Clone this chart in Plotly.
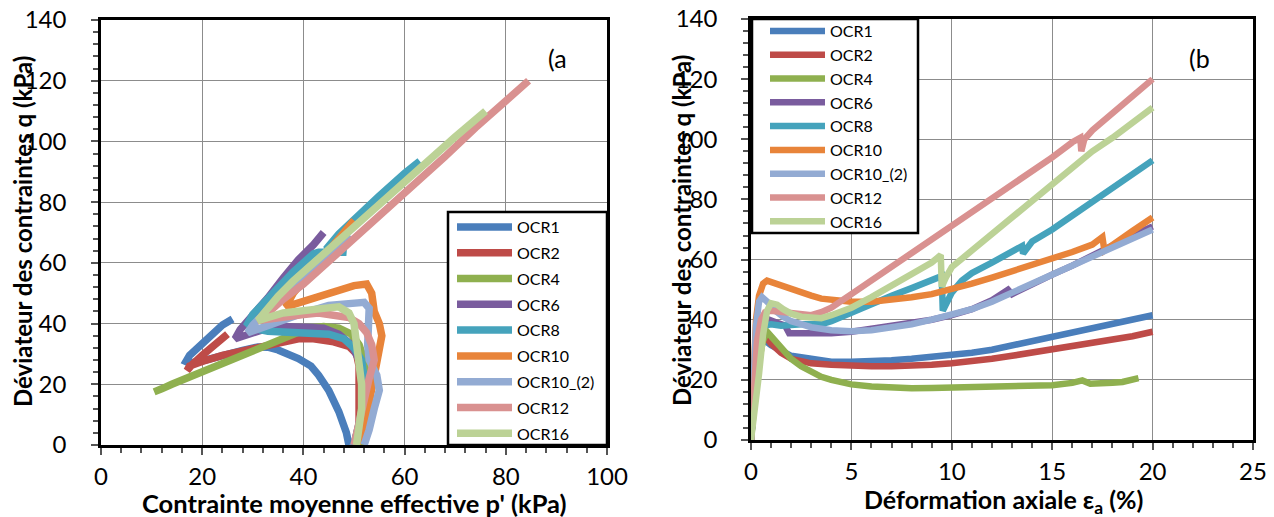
import plotly.graph_objects as go

# ---------------- DATA ----------------
series_names = ["OCR1", "OCR2", "OCR4", "OCR6", "OCR8", "OCR10", "OCR10_(2)", "OCR12", "OCR16"]
series_colors = ["#4A7EBB", "#BE4B48", "#8FB04F", "#7A5C9E", "#45A3BC", "#E8843A", "#93ABD3", "#D99190", "#BCD296"]

# (a) stress paths: p' (kPa) vs q (kPa)
p_ocr1 = [49, 48.5, 47, 45, 43, 41.5, 39, 36.5, 35, 33, 31, 28, 25, 22, 19.5, 17.5, 16.8, 17.5, 19, 20.5, 22, 24, 26]
q_ocr1 = [0, 4, 11, 18, 23, 26, 28.5, 30.5, 31.3, 32.2, 32.3, 31.2, 29.8, 28.5, 27.5, 27, 27.5, 29.5, 32, 34.5, 37, 39.5, 41.5]
p_ocr2 = [51, 51, 51, 51, 50.5, 49, 46, 42, 39, 36, 32, 28, 24, 20, 17.5, 17, 18, 20, 22, 24, 25]
q_ocr2 = [0, 10, 20, 26, 30, 32.5, 34, 35, 35, 34, 32.5, 31, 29.5, 27.5, 26, 24.5, 26.5, 29.5, 32.5, 35, 36.5]
p_ocr4 = [51.5, 52, 52.5, 52.5, 52, 51, 49.5, 47, 44, 41, 38, 35, 32, 29, 26, 23, 20, 17, 14, 12, 10.5]
q_ocr4 = [0, 8, 15, 22, 28, 33, 36.5, 38.5, 39, 38.5, 36.5, 34, 32, 30, 28, 26, 24, 22, 20, 18.5, 17.5]
p_ocr6 = [50, 51, 52, 52, 51, 49.5, 47, 44, 40, 36, 32, 29, 27, 26.5, 27.5, 30, 33, 36, 39, 42, 44]
q_ocr6 = [0, 6, 14, 22, 28, 33, 36.5, 38.5, 39, 39, 38, 36.5, 35.5, 35, 38, 42.5, 48.5, 55, 61, 66, 70]
p_ocr8 = [50, 51, 52, 52, 51.5, 50, 48, 45, 41, 37, 33, 30, 29, 30, 32, 35, 38, 42, 43, 48.5, 44.5, 47, 50, 55, 60, 63]
q_ocr8 = [0, 6, 14, 22, 28, 32, 35, 36.5, 37, 37, 37.5, 38.5, 40, 43, 46.5, 52, 57, 63, 63.5, 63.5, 64.5, 69.5, 74.5, 82, 89.5, 93.5]
p_ocr10 = [50.5, 52, 53, 54, 54.5, 55.5, 55, 54, 53.5, 52.5, 50, 47, 44, 40, 37.5, 36.5, 38, 41, 44, 47, 50]
q_ocr10 = [0, 5, 14, 22, 28, 36, 40, 44, 50, 53, 52.5, 51, 49.5, 47.5, 46, 45.5, 50, 56, 62, 68, 74]
p_ocr10b = [52, 53, 54, 55, 54.5, 53, 52.7, 52.8, 53, 52, 48, 45, 40, 35, 31, 29, 30, 32, 35, 38, 41, 44, 47, 49]
q_ocr10b = [0, 5, 12, 18, 23, 28, 33, 40, 45, 47, 46.5, 46, 43.5, 40.5, 38, 37, 39.5, 43, 48, 52.5, 57, 61.5, 66, 69.5]
p_ocr12 = [50, 51, 52, 53, 54, 53.5, 52.5, 51, 49, 46, 43, 40, 37, 34, 32, 31, 33, 36, 40, 44, 50, 56, 62, 68, 74, 80, 84.5]
q_ocr12 = [0, 8, 15, 22, 28, 33, 37, 40, 42, 43, 43.5, 43, 42.5, 42, 41.5, 41, 43.5, 48, 53, 59, 67.5, 76.5, 86, 95, 104.5, 113.5, 120]
p_ocr16 = [50.5, 51, 51.5, 51.5, 51, 50.5, 50, 49, 47, 44, 40, 36, 33, 31, 32.5, 35, 38, 42, 46, 50, 55, 60, 65, 70, 76]
q_ocr16 = [0, 5, 12, 20, 28, 34, 40, 43.5, 45.5, 45, 44, 43.5, 42, 41, 44, 49, 54, 60, 66, 72, 79, 86.5, 94, 101.5, 110]

# (b) q (kPa) vs axial strain (%)
e_ocr1 = [0, 0.15, 0.3, 0.5, 0.7, 1, 1.5, 2, 3, 4, 5, 6, 7, 8, 9, 10, 11, 12, 13, 14, 15, 16, 17, 18, 19, 20]
qe_ocr1 = [0, 15, 27, 33, 33, 31.5, 29.5, 28, 27, 26, 26, 26, 26.5, 27, 27.5, 28, 29, 30, 31.5, 33, 34.5, 35.5, 37, 38.5, 40, 41.5]
e_ocr2 = [0, 0.15, 0.3, 0.5, 0.7, 1, 1.5, 2, 2.5, 3, 4, 5, 6, 7, 8, 9, 10, 11, 12, 13, 14, 15, 16, 17, 18, 19, 20]
qe_ocr2 = [0, 14, 27, 33, 34.5, 32, 29, 27, 26, 25.5, 25, 24.5, 24.5, 24.5, 24.5, 25, 25.5, 26, 27, 28, 29, 30, 31, 32, 33, 34.5, 36]
e_ocr4 = [0, 0.15, 0.35, 0.6, 0.8, 1, 1.3, 1.6, 2, 2.5, 3, 3.5, 4, 4.5, 5, 6, 7, 8, 9, 10, 11, 12, 13, 14, 15, 16, 16.5, 16.9, 17.5, 18, 18.5, 19, 19.3]
qe_ocr4 = [0, 12, 25, 33, 36, 34.5, 32, 29.5, 27, 24.5, 22.5, 21, 20, 19, 18.5, 17.8, 17.3, 17.2, 17.3, 17.5, 17.6, 17.5, 17.6, 17.8, 18.2, 19, 19.8, 18.7, 18.6, 19, 19.3, 19.8, 20.6]
e_ocr6 = [0, 0.2, 0.4, 0.6, 0.9, 1.3, 1.7, 1.9, 2.5, 3, 4, 5, 6, 7, 8, 9, 10, 11, 12, 12.8, 13, 14, 15, 16, 17, 18, 19, 20]
qe_ocr6 = [0, 18, 33, 38.5, 40, 39, 38, 35.5, 35.5, 35.3, 35.5, 36, 37, 37.8, 38.5, 40, 41.5, 43.5, 46.5, 50, 48.5, 52, 55, 58, 61.5, 64.5, 68, 71]
e_ocr8 = [0, 0.2, 0.4, 0.6, 1, 1.5, 2, 2.5, 3, 3.5, 4, 5, 6, 7, 8, 9, 9.5, 9.55, 9.8, 10, 10.5, 11, 12, 13, 13.5, 13.55, 14, 15, 16, 17, 18, 19, 20]
qe_ocr8 = [0, 20, 34, 38, 38.5, 38, 38.5, 38.5, 38.5, 38.5, 39.5, 42.5, 45.5, 48, 50.5, 53, 54.5, 43, 46, 49, 53, 55.5, 59, 63, 64.5, 62, 66, 70, 74.5, 79, 83.5, 88, 93]
e_ocr10 = [0, 0.1, 0.25, 0.4, 0.6, 0.8, 1.2, 1.6, 2, 2.5, 3, 3.5, 4, 5, 6, 7, 8, 9, 10, 11, 12, 13, 14, 15, 16, 17, 17.5, 17.6, 18, 19, 20]
qe_ocr10 = [0, 20, 40, 48, 52, 53, 52, 51, 50, 49, 48, 47, 46.5, 46, 46, 46.5, 47.5, 48.5, 50, 52, 54, 56, 58, 60, 62.5, 65, 67.5, 63, 65, 69.5, 74]
e_ocr10b = [0, 0.1, 0.25, 0.4, 0.55, 0.8, 1.2, 1.6, 2, 2.5, 3, 4, 5, 6, 7, 8, 9, 10, 11, 12, 13, 14, 15, 16, 17, 18, 19, 20]
qe_ocr10b = [0, 18, 38, 46, 47.5, 46, 43, 41, 39.5, 38.5, 37.5, 36.5, 36.2, 36.5, 37.3, 38.5, 40, 41.5, 43.5, 46, 49, 52, 55, 58, 61.5, 64.5, 67, 70]
e_ocr12 = [0, 0.15, 0.3, 0.5, 0.7, 1, 1.5, 2, 2.5, 3, 3.5, 4, 5, 6, 7, 8, 9, 10, 11, 12, 13, 14, 15, 16, 16.4, 16.45, 16.6, 17, 18, 19, 20]
qe_ocr12 = [0, 20, 33, 40, 42.5, 43, 42.5, 42, 41.5, 41.5, 42.5, 44, 48.5, 53, 57.5, 62.5, 67, 71.5, 76, 80, 84.5, 89.5, 94, 99, 100.5, 96, 100, 103, 108.5, 114, 120]
e_ocr16 = [0, 0.2, 0.4, 0.6, 0.8, 1, 1.3, 1.6, 2, 2.5, 3, 3.5, 4, 5, 6, 7, 8, 9, 9.45, 9.5, 9.7, 10, 11, 12, 13, 14, 15, 16, 17, 18, 19, 20]
qe_ocr16 = [0, 10, 22, 35, 43, 45.5, 45, 43.5, 42, 41, 40.5, 40.5, 41.5, 44, 47.5, 51.5, 55.5, 59, 61.5, 51, 54, 57.5, 63, 68.5, 74, 79.5, 85, 90.5, 96, 100.5, 105.5, 110.5]

# axis tick values / labels
x_a_ticks = [0, 20, 40, 60, 80, 100]
x_b_ticks = [0, 5, 10, 15, 20, 25]
y_ticks = [0, 20, 40, 60, 80, 100, 120, 140]

paths_a = [(p_ocr1, q_ocr1), (p_ocr2, q_ocr2), (p_ocr4, q_ocr4), (p_ocr6, q_ocr6), (p_ocr8, q_ocr8),
           (p_ocr10, q_ocr10), (p_ocr10b, q_ocr10b), (p_ocr12, q_ocr12), (p_ocr16, q_ocr16)]
curves_b = [(e_ocr1, qe_ocr1), (e_ocr2, qe_ocr2), (e_ocr4, qe_ocr4), (e_ocr6, qe_ocr6), (e_ocr8, qe_ocr8),
            (e_ocr10, qe_ocr10), (e_ocr10b, qe_ocr10b), (e_ocr12, qe_ocr12), (e_ocr16, qe_ocr16)]

FONT = "Lato, 'Open Sans', sans-serif"
W, H = 1274, 517

fig = go.Figure()
for i, (name, col) in enumerate(zip(series_names, series_colors)):
    px, qy = paths_a[i]
    fig.add_trace(go.Scatter(x=px, y=qy, mode="lines", name=name, xaxis="x", yaxis="y",
                             line=dict(color=col, width=7.5), legend="legend",
                             legendgroup="a" + name))
for i, (name, col) in enumerate(zip(series_names, series_colors)):
    ex, qy = curves_b[i]
    fig.add_trace(go.Scatter(x=ex, y=qy, mode="lines", name=name, xaxis="x2", yaxis="y2",
                             line=dict(color=col, width=6.5), legend="legend2",
                             legendgroup="b" + name))

def px2x(p):
    return p / W

def px2y(p):
    return 1 - p / H

axis_common = dict(showgrid=True, gridcolor="#8C8C8C", gridwidth=1.2, zeroline=False,
                   showline=True, linecolor="black", linewidth=2.5, mirror=True,
                   ticks="outside", ticklen=7, tickwidth=1.5, tickcolor="#555555",
                   tickfont=dict(family=FONT, size=24, color="black"),
                   automargin=False)

def minor(d):
    return dict(dtick=d, ticks="outside", ticklen=5, tickcolor="#555555", showgrid=False)

fig.update_layout(
    width=W, height=H, autosize=False,
    margin=dict(l=0, r=0, t=0, b=0),
    paper_bgcolor="white", plot_bgcolor="white",
    font=dict(family=FONT, color="black"),
    xaxis=dict(domain=[px2x(101), px2x(607)], range=[0, 100], tickvals=x_a_ticks,
               anchor="y", minor=minor(4), ticklabelstandoff=1, **axis_common),
    yaxis=dict(domain=[px2y(445), px2y(20)], range=[0, 140], tickvals=y_ticks,
               anchor="x", minor=minor(4), ticklabelstandoff=20, **axis_common),
    xaxis2=dict(domain=[px2x(751), px2x(1253)], range=[0, 25], tickvals=x_b_ticks,
                anchor="y2", minor=minor(1), ticklabelstandoff=1, **axis_common),
    yaxis2=dict(domain=[px2y(440), px2y(19)], range=[0, 140], tickvals=y_ticks,
                anchor="x2", minor=minor(4), ticklabelstandoff=19, **axis_common),
    legend=dict(x=px2x(452), y=px2y(210), xanchor="left", yanchor="top",
                bgcolor="rgba(0,0,0,0)", borderwidth=0, tracegroupgap=2,
                itemwidth=55, font=dict(family=FONT, size=16, color="black")),
    legend2=dict(x=px2x(765), y=px2y(14), xanchor="left", yanchor="top",
                 bgcolor="rgba(0,0,0,0)", borderwidth=0, tracegroupgap=0,
                 itemwidth=55, font=dict(family=FONT, size=16, color="black")),
    shapes=[
        dict(type="rect", xref="paper", yref="paper", x0=px2x(448), x1=px2x(607),
             y0=px2y(445), y1=px2y(212), line=dict(color="black", width=2.5),
             fillcolor="white", layer="above"),
        dict(type="rect", xref="paper", yref="paper", x0=px2x(752), x1=px2x(918),
             y0=px2y(233), y1=px2y(19), line=dict(color="black", width=2.5),
             fillcolor="white", layer="above"),
    ],
    annotations=[
        dict(text="(a", xref="paper", yref="paper", x=px2x(557), y=px2y(58),
             xanchor="center", yanchor="middle",
             showarrow=False, font=dict(family=FONT, size=25, color="black")),
        dict(text="(b", xref="paper", yref="paper", x=px2x(1199), y=px2y(58),
             xanchor="center", yanchor="middle",
             showarrow=False, font=dict(family=FONT, size=25, color="black")),
        dict(text="<b>Déviateur des contraintes q (kPa)</b>", xref="paper", yref="paper",
             x=px2x(22), y=px2y(232), textangle=-90, showarrow=False,
             xanchor="center", yanchor="middle",
             font=dict(family=FONT, size=24, color="black")),
        dict(text="<b>Déviateur des contraintes q (kPa)</b>", xref="paper", yref="paper",
             x=px2x(682), y=px2y(230), textangle=-90, showarrow=False,
             xanchor="center", yanchor="middle",
             font=dict(family=FONT, size=24, color="black")),
        dict(text="<b>Contrainte moyenne effective p' (kPa)</b>", xref="paper", yref="paper",
             x=px2x(354), y=px2y(503), showarrow=False,
             xanchor="center", yanchor="middle",
             font=dict(family=FONT, size=25.5, color="black")),
        dict(text="<b>Déformation axiale ε<sub>a</sub> (%)</b>", xref="paper", yref="paper",
             x=px2x(1003), y=px2y(501), showarrow=False,
             xanchor="center", yanchor="middle",
             font=dict(family=FONT, size=25, color="black")),
    ],
)

fig.write_html("out.html", include_plotlyjs=True, config={"displayModeBar": False},
               post_script="document.body.style.margin='0';")
